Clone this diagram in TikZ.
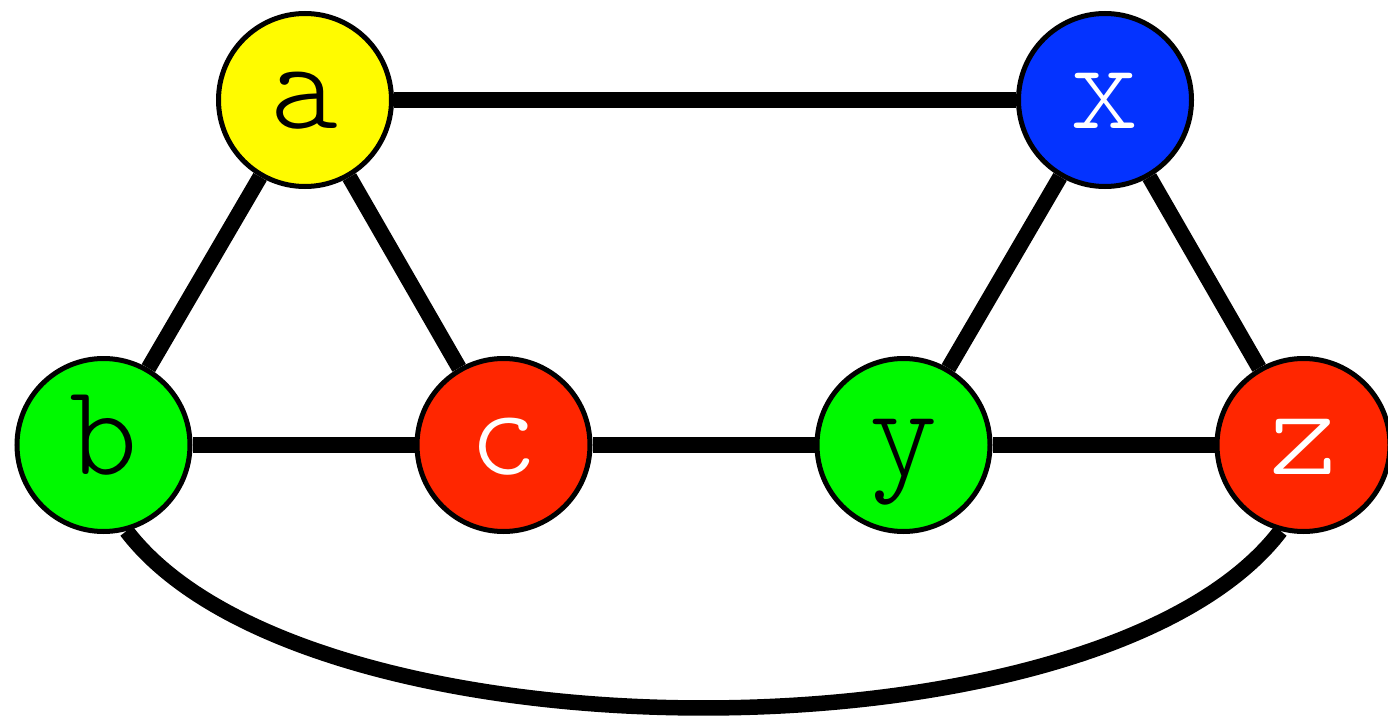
\documentclass[tikz,border=0pt]{standalone}
\usetikzlibrary{backgrounds}
\definecolor{ylw}{HTML}{FFFB00}
\definecolor{blu}{HTML}{0433FF}
\definecolor{grn}{HTML}{00F900}
\definecolor{rd}{HTML}{FF2600}
\tikzstyle{vertex} = [circle, draw=black, line width=0.1cm, minimum size=3.46cm, inner sep=0pt, text height=1.3cm, text depth=0.14cm, font={\ttfamily\fontseries{l}\fontsize{74}{74}\selectfont}]
\tikzstyle{edge} = [line width=0.31cm]
\begin{document}
\begin{tikzpicture}[node distance = 8cm]
\useasboundingbox (0,0) rectangle (27.76,-14.32);
\node (b) [vertex, fill=grn] at (2.07,-8.9) {b};
\node (c) [vertex, fill=rd, text=white, right of = b] {c};
\node (y) [vertex, fill=grn, right of = c] {y};
\node (z) [vertex, fill=rd, text=white, right of = y] {z};
\node (a) [vertex, fill=ylw] at (6.1,-2) {a};
\node (x) [vertex, fill=blu, text=white, right of = a, xshift=8cm] {x};

\begin{scope}[on background layer]
\draw [edge] (a) -- (x);
\draw [edge] (a) -- (b);
\draw [edge] (a) -- (c);
\draw [edge] (x) -- (y);
\draw [edge] (x) -- (z);
\draw [edge] (b) -- (c);
\draw [edge] (c) -- (y);
\draw [edge] (y) -- (z);
\draw [edge] (b.-75) .. controls +(3.6,-4.72) and +(-3.6,-4.72) .. (z.-105);
\end{scope}
\end{tikzpicture}
\end{document}
